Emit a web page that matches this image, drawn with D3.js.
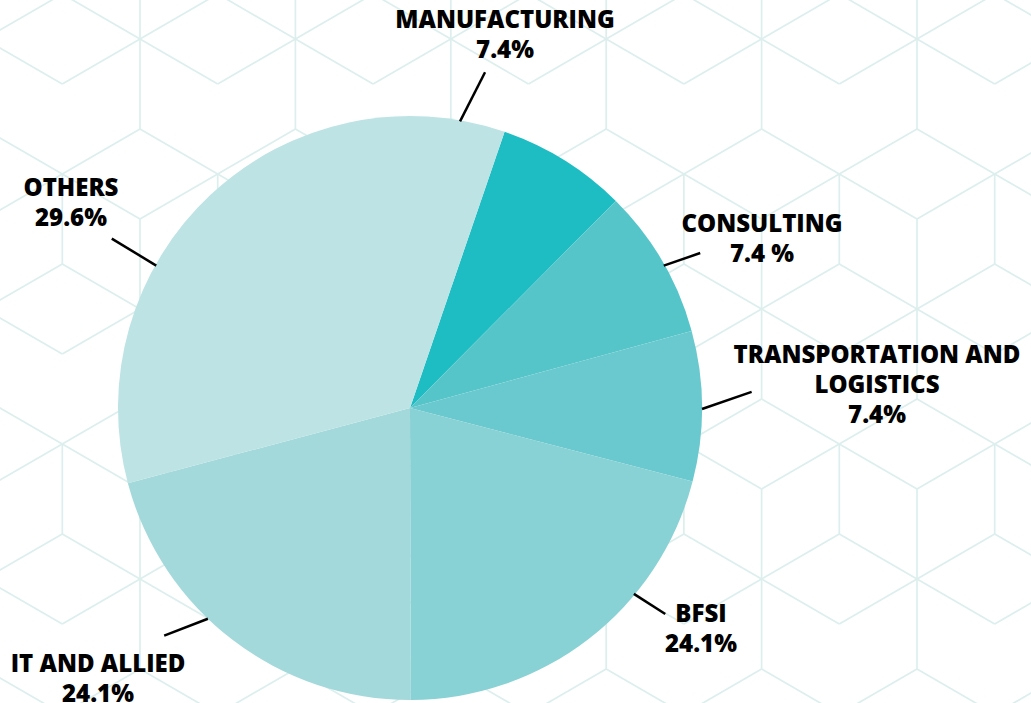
<!DOCTYPE html>
<html>
<head>
<meta charset="utf-8">
<script src="https://cdn.jsdelivr.net/npm/d3@7"></script>
<style>
    body { margin: 0; background: #ffffff; }
    #pie-viz { width: 1031px; height: 703px; overflow: hidden; }
    .label { font-family: 'Open Sans', sans-serif; font-weight: 800; font-size: 24px; fill: #000; }
</style>
</head>
<body>
<div id="pie-viz"></div>
<script>
// Sector data (shares as they are drawn in the picture)
const categories = ['MANUFACTURING', 'CONSULTING', 'TRANSPORTATION AND LOGISTICS', 'BFSI', 'IT AND ALLIED', 'OTHERS'];
const sliceShares = [7.2, 8.3, 8.3, 20.9, 20.9, 34.4];
const labelPercents = ['7.4%', '7.4 %', '7.4%', '24.1%', '24.1%', '29.6%'];

const sliceColors = ['#1ebdc3', '#55c5c9', '#6ac9ce', '#88d1d4', '#a3d9db', '#bde3e4'];

// Label placement: text lines, anchor point, and leader line (angle deg / radius)
const labelLayout = [
    { lines: ['MANUFACTURING'], x: 505, y: 28, lead: [9.9, 291, 12.6, 344] },
    { lines: ['CONSULTING'], x: 762, y: 232, lead: [60.7, 291, 61.9, 329] },
    { lines: ['TRANSPORTATION AND', 'LOGISTICS'], x: 877, y: 363, lead: [90.2, 292, 87.3, 342] },
    { lines: ['BFSI'], x: 701, y: 622, lead: [129.7, 291, 128.9, 328] },
    { lines: ['IT AND ALLIED'], x: 98, y: 672, lead: [223.8, 292, 227.2, 335] },
    { lines: ['OTHERS'], x: 71, y: 196, lead: [299.3, 291, 299.6, 343] }
];

const width = 1031;
const height = 703;
const cx = 410;
const cy = 408;
const radius = 292;
const startDeg = 18.9;
const lineHeight = 30;

const svg = d3.select('#pie-viz')
    .append('svg')
    .attr('width', width)
    .attr('height', height);

// Background cube pattern
const bg = svg.append('g').attr('class', 'pattern');
const stepX = 77.7, stepY = 45, ox = 140, oy = 39;
const spokes = [[1, 1], [1, -1], [-1, 1], [-1, -1], [0, 2], [0, -2]];
for (let b = -2; b <= 7; b++) {
    for (let a = -4; a <= 10; a++) {
        const i = 2 * a + b;
        const j = 3 * b;
        const x = ox + i * stepX;
        const y = oy + j * stepY;
        if (x < -200 || x > width + 200) continue;
        spokes.forEach(([di, dj]) => {
            // rows with odd b have no upward spoke
            if (di === 0 && dj === -2 && Math.abs(b % 2) === 1) return;
            bg.append('line')
                .attr('x1', x).attr('y1', y)
                .attr('x2', x + di * stepX).attr('y2', y + dj * stepY)
                .style('stroke', '#dcefed')
                .style('stroke-width', 1.7);
        });
    }
}

// Pie
const toRad = d => d * Math.PI / 180;
const pie = d3.pie()
    .sort(null)
    .value(d => d)
    .startAngle(toRad(startDeg))
    .endAngle(toRad(startDeg + 360));

const arc = d3.arc()
    .innerRadius(0)
    .outerRadius(radius);

const g = svg.append('g')
    .attr('transform', `translate(${cx},${cy})`);

g.selectAll('path.slice')
    .data(pie(sliceShares))
    .join('path')
    .attr('class', 'slice')
    .attr('d', arc)
    .style('fill', (d, i) => sliceColors[i]);

// Leader lines + labels
const polar = (deg, r) => [r * Math.sin(toRad(deg)), -r * Math.cos(toRad(deg))];

labelLayout.forEach((lab, i) => {
    const [a0, r0, a1, r1] = lab.lead;
    const p0 = polar(a0, r0);
    const p1 = polar(a1, r1);
    g.append('line')
        .attr('x1', p0[0]).attr('y1', p0[1])
        .attr('x2', p1[0]).attr('y2', p1[1])
        .style('stroke', '#000')
        .style('stroke-width', 2.5);

    const text = svg.append('text')
        .attr('class', 'label')
        .attr('text-anchor', 'middle')
        .attr('x', lab.x)
        .attr('y', lab.y);
    lab.lines.concat([labelPercents[i]]).forEach((t, k) => {
        text.append('tspan')
            .attr('x', lab.x)
            .attr('dy', k === 0 ? 0 : lineHeight)
            .text(t);
    });
});
</script>
</body>
</html>
